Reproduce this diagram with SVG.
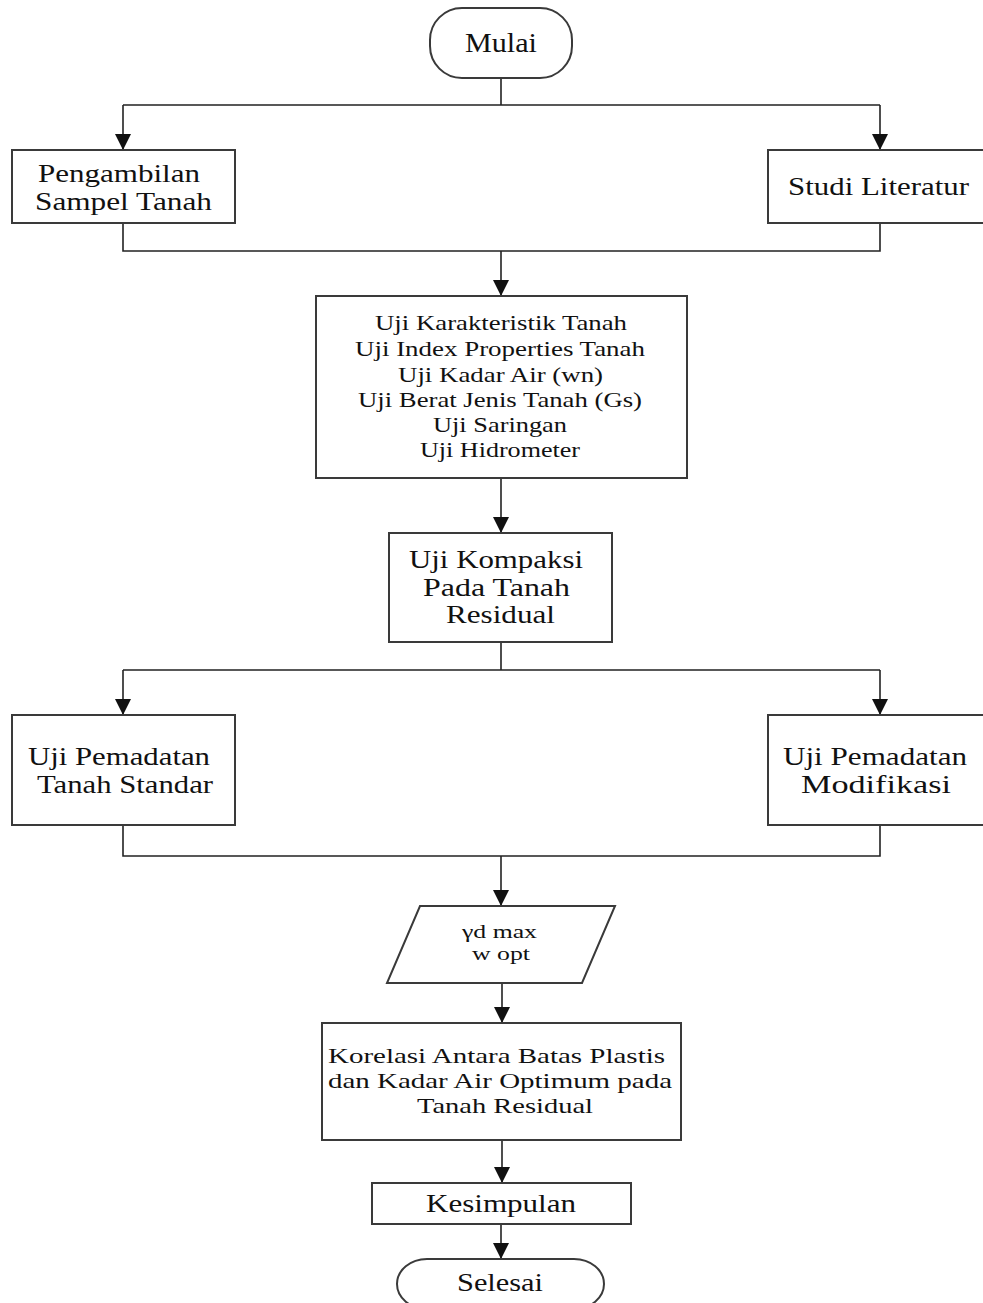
<svg xmlns="http://www.w3.org/2000/svg" width="983" height="1303" viewBox="0 0 983 1303">
<defs>
<marker id="arr" markerUnits="userSpaceOnUse" markerWidth="17" markerHeight="16" refX="16" refY="8" orient="auto" viewBox="0 0 17 16">
<path d="M0,0 L16,8 L0,16 Z" fill="#111"/>
</marker>
<style>
.box{fill:#fff;stroke:#3a3a3a;stroke-width:2}
.ln{fill:none;stroke:#222;stroke-width:1.6}
.ar{fill:none;stroke:#222;stroke-width:1.6;marker-end:url(#arr)}
text{font-family:"Liberation Serif","Times New Roman",serif;fill:#111;text-anchor:middle}
.t25{font-size:26px}
.t20{font-size:21px}
.t17{font-size:18px}
</style>
</defs>
<rect width="983" height="1303" fill="#fff"/>

<g id="connectors">
<path class="ln" d="M501,78 V105 M123,105 H880"/>
<path class="ar" d="M123,105 V150"/>
<path class="ar" d="M880,105 V150"/>
<path class="ln" d="M123,223 V251 H880 V223"/>
<path class="ar" d="M501,251 V296"/>
<path class="ar" d="M501,478 V533"/>
<path class="ln" d="M501,642 V670 M123,670 H880"/>
<path class="ar" d="M123,670 V715"/>
<path class="ar" d="M880,670 V715"/>
<path class="ln" d="M123,825 V856 H880 V825"/>
<path class="ar" d="M501,856 V906"/>
<path class="ar" d="M502,978 V1023"/>
<path class="ar" d="M502,1140 V1183"/>
<path class="ar" d="M501,1218 V1259"/>
</g>

<g id="mulai">
<rect class="box" x="430" y="8" width="142" height="70" rx="32" ry="32"/>
<text x="501" y="52" style="font-size:27px" textLength="72" lengthAdjust="spacingAndGlyphs">Mulai</text>
</g>

<g id="pengambilan">
<rect class="box" x="12" y="150" width="223" height="73"/>
<text class="t25" x="119" y="182" textLength="162" lengthAdjust="spacingAndGlyphs">Pengambilan</text>
<text class="t25" x="123.5" y="210" textLength="177" lengthAdjust="spacingAndGlyphs">Sampel Tanah</text>
</g>

<g id="studi">
<rect class="box" x="768" y="150" width="220" height="73"/>
<text class="t25" x="878.5" y="195" textLength="181" lengthAdjust="spacingAndGlyphs">Studi Literatur</text>
</g>

<g id="uji-karakteristik">
<rect class="box" x="316" y="296" width="371" height="182"/>
<text class="t20" x="501" y="330" textLength="252" lengthAdjust="spacingAndGlyphs">Uji Karakteristik Tanah</text>
<text class="t20" x="500" y="356" textLength="290" lengthAdjust="spacingAndGlyphs">Uji Index Properties Tanah</text>
<text class="t20" x="500.5" y="382" textLength="205" lengthAdjust="spacingAndGlyphs">Uji Kadar Air (wn)</text>
<text class="t20" x="500" y="407" textLength="284" lengthAdjust="spacingAndGlyphs">Uji Berat Jenis Tanah (Gs)</text>
<text class="t20" x="500" y="432" textLength="134" lengthAdjust="spacingAndGlyphs">Uji Saringan</text>
<text class="t20" x="500" y="457" textLength="160" lengthAdjust="spacingAndGlyphs">Uji Hidrometer</text>
</g>

<g id="uji-kompaksi">
<rect class="box" x="389" y="533" width="223" height="109"/>
<text class="t25" x="496" y="568" textLength="174" lengthAdjust="spacingAndGlyphs">Uji Kompaksi</text>
<text class="t25" x="496.5" y="596" textLength="147" lengthAdjust="spacingAndGlyphs">Pada Tanah</text>
<text class="t25" x="500.5" y="623" textLength="109" lengthAdjust="spacingAndGlyphs">Residual</text>
</g>

<g id="pemadatan-standar">
<rect class="box" x="12" y="715" width="223" height="110"/>
<text class="t25" x="119" y="765" textLength="182" lengthAdjust="spacingAndGlyphs">Uji Pemadatan</text>
<text class="t25" x="125" y="793" textLength="176" lengthAdjust="spacingAndGlyphs">Tanah Standar</text>
</g>

<g id="pemadatan-modifikasi">
<rect class="box" x="768" y="715" width="220" height="110"/>
<text class="t25" x="875" y="765" textLength="184" lengthAdjust="spacingAndGlyphs">Uji Pemadatan</text>
<text class="t25" x="876" y="793" textLength="150" lengthAdjust="spacingAndGlyphs">Modifikasi</text>
</g>

<g id="output">
<polygon class="box" points="420,906 615,906 582,983 387,983"/>
<text class="t17" x="499.5" y="938" textLength="75" lengthAdjust="spacingAndGlyphs">γd max</text>
<text class="t17" x="501" y="960" textLength="58" lengthAdjust="spacingAndGlyphs">w opt</text>
</g>

<g id="korelasi">
<rect class="box" x="322" y="1023" width="359" height="117"/>
<text class="t20" x="496.5" y="1063" textLength="337" lengthAdjust="spacingAndGlyphs">Korelasi Antara Batas Plastis</text>
<text class="t20" x="500" y="1088" textLength="344" lengthAdjust="spacingAndGlyphs">dan Kadar Air Optimum pada</text>
<text class="t20" x="505" y="1113" textLength="176" lengthAdjust="spacingAndGlyphs">Tanah Residual</text>
</g>

<g id="kesimpulan">
<rect class="box" x="372" y="1183" width="259" height="41"/>
<text style="font-size:25px" x="501" y="1212" textLength="150" lengthAdjust="spacingAndGlyphs">Kesimpulan</text>
</g>

<g id="selesai">
<rect class="box" x="397" y="1259" width="207" height="50" rx="30" ry="25"/>
<text style="font-size:25px" x="500" y="1291" textLength="86" lengthAdjust="spacingAndGlyphs">Selesai</text>
</g>
</svg>
